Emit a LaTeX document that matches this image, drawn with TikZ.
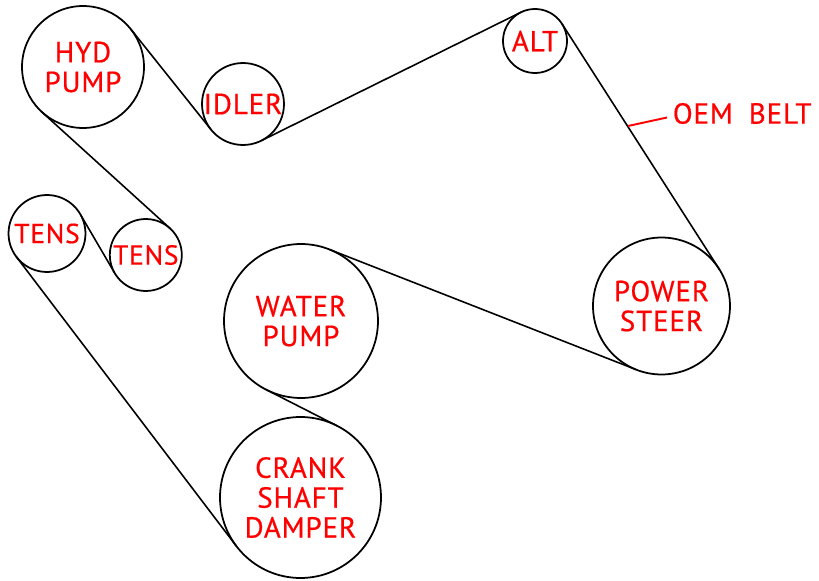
\documentclass[tikz,border=0pt]{standalone}
\usepackage{fontspec}
\setmainfont[FakeBold=0.6,LetterSpace=3]{PT Sans}
\definecolor{lbl}{RGB}{255,0,0}
\newcommand{\lblfont}{\fontsize{16.5}{17}\selectfont}
\newcommand{\tensfont}{\fontsize{15.6}{17}\selectfont}
\tikzset{
  x=0.02cm,y=-0.02cm,
  pulley/.style={draw=black,circle,line width=1pt,inner sep=0pt,outer sep=0pt,text=lbl,align=center,font=\lblfont},
  belt/.style={draw=black,line width=0.9pt,line cap=round},
  leader/.style={draw=lbl,line width=1.1pt},
}
\begin{document}
\begin{tikzpicture}
\useasboundingbox (0,0) rectangle (819,581);
\node[pulley,minimum size=2.44cm] (hyd) at (83,67) {HYD\\PUMP};
\node[pulley,minimum size=1.64cm] (idler) at (243,104) {\makebox[0pt]{IDLER}};
\node[pulley,minimum size=1.28cm] (alt) at (535,41) {\makebox[0pt]{ALT}};
\node[pulley,minimum size=2.74cm] (steer) at (661.5,306) {POWER\\STEER};
\node[pulley,minimum size=3.08cm] (water) at (301,321) {WATER\\PUMP};
\node[pulley,minimum size=3.22cm] (crank) at (300.5,497.5) {CRANK\\SHAFT\\DAMPER};
\node[pulley,minimum size=1.54cm,font=\tensfont] (tensa) at (47,233.5) {\makebox[0pt]{TENS}};
\node[pulley,minimum size=1.44cm,font=\tensfont] (tensb) at (145.8,255) {\makebox[0pt]{TENS}};
\draw[belt] (hyd.38.2) -- (idler.218.2);
\draw[belt] (idler.-63.8) -- (alt.116.2);
\draw[belt] (alt.32.5) -- (steer.32.5);
\draw[belt] (steer.248.7) -- (water.68.7);
\draw[belt] (water.243) -- (crank.63);
\draw[belt] (crank.217.2) -- (tensa.217.2);
\draw[belt] (tensa.29.8) -- (tensb.209.8);
\draw[belt] (tensb.47.5) -- (hyd.227.5);
\node[text=lbl,anchor=west,inner sep=0pt,font=\lblfont] (oem) at (672.5,113.5) {OEM\hspace{0.55em}BELT};
\coordinate (beltpt) at (628,126);
\coordinate (leaderend) at (667,117.5);
\draw[leader] (beltpt) -- (leaderend);
\end{tikzpicture}
\end{document}
